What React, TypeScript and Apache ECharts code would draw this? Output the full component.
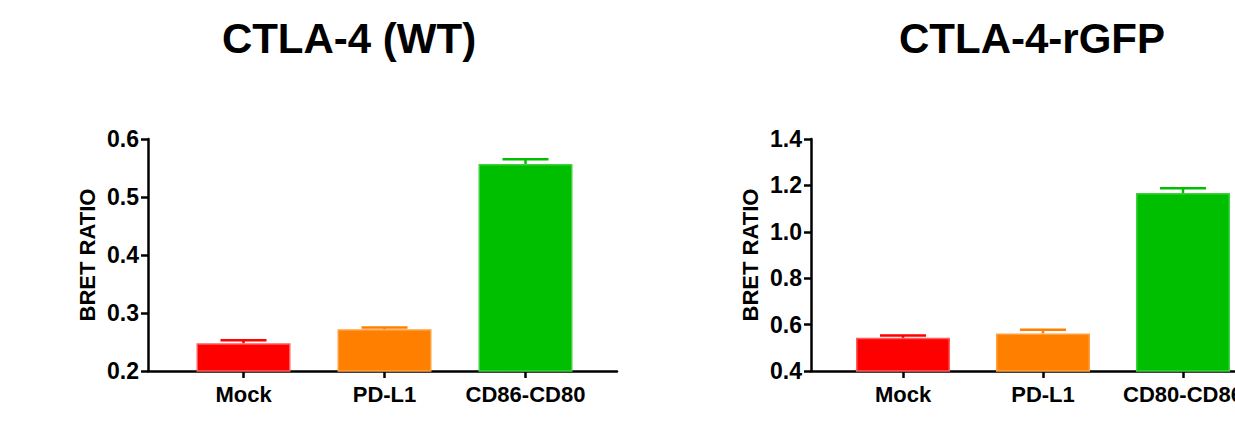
import React, { useEffect, useRef } from "react";
import * as echarts from "echarts";

const titles = ["CTLA-4 (WT)", "CTLA-4-rGFP"];
const categoriesWT = ["Mock", "PD-L1", "CD86-CD80"];
const categoriesGFP = ["Mock", "PD-L1", "CD80-CD86"];
const valuesWT = [0.248, 0.272, 0.557];
const errorTopWT = [0.253, 0.275, 0.565];
const valuesGFP = [0.543, 0.562, 1.167];
const errorTopGFP = [0.553, 0.578, 1.188];
const yTicksWT = { min: 0.2, max: 0.6, interval: 0.1 };
const yTicksGFP = { min: 0.4, max: 1.4, interval: 0.2 };
const yAxisName = "BRET RATIO";

const barColors = ["#ff0000", "#ff8000", "#00bf00"];
const borderColors = ["#ff5c5c", "#ffa040", "#3ed03e"];

const FONT = "Liberation Sans";

export default function App() {
  const ref = useRef<HTMLDivElement>(null);
  useEffect(() => {
    if (!ref.current) return;
    const chart = echarts.init(ref.current, null, { renderer: "svg" });

    const axisLine = { show: true, lineStyle: { color: "#000", width: 2.5 } };
    const axisTick = { show: true, length: 7, lineStyle: { color: "#000", width: 2.5 } };
    const labelStyle = { color: "#000", fontFamily: FONT, fontWeight: "bold" as const, fontSize: 22 };

    const makeX = (gridIndex: number, min: number, max: number, cats: string[]) => ({
      type: "value",
      gridIndex,
      min,
      max,
      axisLine: { ...axisLine, onZero: false },
      axisTick: { ...axisTick, customValues: [0, 1, 2] },
      axisLabel: {
        ...labelStyle,
        margin: 12,
        customValues: [0, 1, 2],
        formatter: (v: number) => cats[Math.round(v)] ?? "",
      },
      splitLine: { show: false },
    });

    const makeY = (gridIndex: number, t: { min: number; max: number; interval: number }) => ({
      type: "value",
      gridIndex,
      min: t.min,
      max: t.max,
      interval: t.interval,
      name: yAxisName,
      nameLocation: "middle",
      nameGap: 50,
      nameRotate: 90,
      nameTextStyle: { ...labelStyle },
      axisLine: { ...axisLine, onZero: false },
      axisTick: { ...axisTick, inside: false },
      axisLabel: { ...labelStyle, fontSize: 23, margin: 9, formatter: (v: number) => v.toFixed(1) },
      splitLine: { show: false },
    });

    const barSeries = (idx: number, vals: number[]) => ({
      type: "bar",
      xAxisIndex: idx,
      yAxisIndex: idx,
      barWidth: 94,
      clip: true,
      data: vals.map((v, i) => ({
        value: [i, v],
        itemStyle: { color: barColors[i], borderColor: borderColors[i], borderWidth: 1.5 },
      })),
    });

    const errSeries = (idx: number, vals: number[], tops: number[]) => ({
      type: "custom",
      xAxisIndex: idx,
      yAxisIndex: idx,
      z: 5,
      data: vals.map((v, i) => [i, v, tops[i]]),
      renderItem: (params: any, api: any) => {
        const x = api.value(0);
        const base = api.coord([x, api.value(1)]);
        const top = api.coord([x, api.value(2)]);
        const i = params.dataIndex;
        const half = 23;
        const style = { stroke: barColors[i], lineWidth: 2.5 };
        return {
          type: "group",
          children: [
            { type: "line", shape: { x1: base[0], y1: base[1], x2: top[0], y2: top[1] }, style },
            { type: "line", shape: { x1: top[0] - half, y1: top[1], x2: top[0] + half, y2: top[1] }, style },
          ],
        };
      },
    });

    const titleStyle = { fontFamily: FONT, fontWeight: "bold" as const, fontSize: 42, color: "#000" };

    chart.setOption({
      animation: false,
      backgroundColor: "#fff",
      title: [
        { text: titles[0], left: 349, top: 17, padding: 0, textAlign: "center", textStyle: titleStyle },
        { text: titles[1], left: 1032, top: 17, padding: 0, textAlign: "center", textStyle: titleStyle },
      ],
      grid: [
        { left: 148, width: 469, top: 139, height: 232, outerBoundsMode: "none", containLabel: false },
        { left: 811, width: 500, top: 139, height: 232, outerBoundsMode: "none", containLabel: false },
      ],
      xAxis: [
        makeX(0, (148 - 243.5) / 141, (617 - 243.5) / 141, categoriesWT),
        makeX(1, (811 - 903) / 140, (1311 - 903) / 140, categoriesGFP),
      ],
      yAxis: [makeY(0, yTicksWT), makeY(1, yTicksGFP)],
      series: [
        barSeries(0, valuesWT),
        errSeries(0, valuesWT, errorTopWT),
        barSeries(1, valuesGFP),
        errSeries(1, valuesGFP, errorTopGFP),
      ],
    });
    return () => chart.dispose();
  }, []);
  return (
    <div
      ref={ref}
      style={{ position: "fixed", left: 0, top: 0, width: 1235, height: 430, background: "#fff" }}
    />
  );
}
